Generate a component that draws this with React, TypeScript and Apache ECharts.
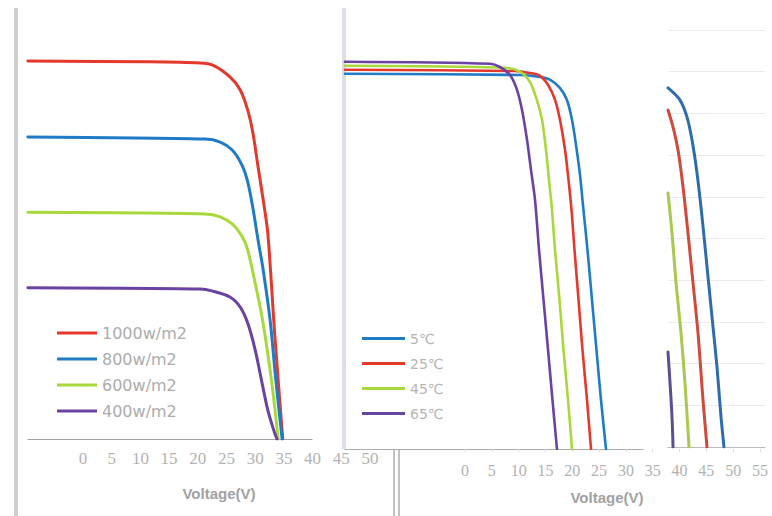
import React, { useEffect, useRef } from 'react';
import * as echarts from 'echarts';

type Pt = [number, number];

// ---------- tick labels ----------
const leftTicks = [0, 5, 10, 15, 20, 25, 30, 35, 40, 45, 50];
const rightTicks = [0, 5, 10, 15, 20, 25, 30, 35, 40, 45, 50, 55];

// ---------- legend names ----------
const irradianceNames = ['1000w/m2', '800w/m2', '600w/m2', '400w/m2'];
const temperatureNames = ['5℃', '25℃', '45℃', '65℃'];

// ---------- panel 1: irradiance I-V curves [V, A] ----------
const irr1000: Pt[] = [[-9.6, 9.0], [11.7, 8.98], [20.4, 8.95], [22.6, 8.9], [25.6, 8.62], [27.4, 8.31], [28.7, 7.83], [29.6, 7.29], [30.5, 6.48], [31.4, 5.69], [32.2, 4.9], [33.4, 2.5], [34.8, 0]];
const irr800: Pt[] = [[-9.6, 7.19], [21.3, 7.14], [23.9, 7.07], [26.0, 6.88], [27.7, 6.52], [28.7, 6.12], [29.6, 5.5], [30.5, 4.74], [31.4, 4.02], [32.6, 2.83], [33.6, 1.4], [34.7, 0]];
const irr600: Pt[] = [[-9.6, 5.4], [21.3, 5.36], [23.9, 5.29], [26.0, 5.12], [27.7, 4.83], [28.7, 4.5], [30.0, 3.71], [31.2, 2.9], [32.1, 2.12], [32.9, 1.33], [33.6, 0.52], [34.0, 0]];
const irr400: Pt[] = [[-9.6, 3.6], [20.4, 3.57], [22.6, 3.52], [25.6, 3.38], [27.4, 3.14], [28.7, 2.76], [30.0, 2.12], [31.2, 1.33], [32.2, 0.69], [33.4, 0.14], [33.8, 0]];

// ---------- panel 2: temperature I-V curves [V, A] ----------
const temp5: Pt[] = [[-22.4, 9.38], [10.3, 9.35], [14.0, 9.3], [15.9, 9.23], [17.7, 9.03], [19.0, 8.73], [19.96, 8.23], [20.71, 7.6], [21.46, 6.85], [22.01, 6.1], [22.85, 4.98], [23.69, 3.73], [24.53, 2.48], [25.37, 1.23], [26.31, 0]];
const temp25: Pt[] = [[-22.4, 9.48], [9.3, 9.45], [12.1, 9.4], [14.0, 9.33], [15.5, 9.1], [16.8, 8.73], [17.72, 8.23], [18.66, 7.48], [19.31, 6.73], [19.87, 5.98], [20.43, 4.98], [21.18, 3.73], [21.92, 2.48], [22.76, 1.23], [23.51, 0]];
const temp45: Pt[] = [[-22.4, 9.58], [7.5, 9.53], [10.3, 9.43], [12.1, 9.18], [13.4, 8.73], [14.37, 8.23], [15.11, 7.48], [15.67, 6.73], [16.23, 5.98], [16.79, 4.98], [17.63, 3.73], [18.38, 2.48], [19.22, 1.23], [19.96, 0]];
const temp65: Pt[] = [[-22.4, 9.68], [4.7, 9.63], [6.5, 9.55], [8.4, 9.35], [9.7, 8.98], [10.63, 8.48], [11.57, 7.73], [12.31, 6.98], [13.06, 6.23], [13.81, 4.98], [14.65, 3.73], [15.49, 2.48], [16.32, 1.23], [17.16, 0]];

// ---------- panel 3: cropped temperature curves [V, A] ----------
const crop5: Pt[] = [[37.87, 8.61], [40.11, 8.32], [41.42, 7.91], [42.35, 7.36], [43.28, 6.57], [44.22, 5.52], [45.15, 4.32], [46.08, 3.12], [47.01, 1.92], [47.76, 0.72], [48.32, 0]];
const crop25: Pt[] = [[37.87, 8.08], [38.81, 7.67], [39.74, 7.12], [40.67, 6.24], [41.6, 5.13], [42.54, 3.93], [43.47, 2.73], [44.4, 1.13], [45.15, 0]];
const crop45: Pt[] = [[37.87, 6.09], [38.62, 5.13], [39.37, 3.93], [40.3, 2.73], [41.04, 1.53], [41.79, 0]];
const crop65: Pt[] = [[37.87, 2.28], [38.25, 1.53], [38.62, 0.72], [38.81, 0]];

const irrColors = ['#e5382d', '#1f7bc6', '#a9d83c', '#6a42a2'];
const tempColors = ['#1f7bc6', '#e5382d', '#a9d83c', '#6a42a2'];
const cropColors = ['#2f6cab', '#cf4a3d', '#a8c84e', '#5d4e92'];

const serifFont = '"Liberation Serif", "Times New Roman", "DejaVu Serif", serif';

const tickLabelStyle = {
  fontFamily: serifFont,
  fontSize: 17,
  color: '#b2b2b2',
};

function lineSeries(name: string, data: Pt[], color: string, axis: number, width: number) {
  return {
    type: 'line',
    name,
    data,
    xAxisIndex: axis,
    yAxisIndex: axis,
    smooth: 0.3,
    symbol: 'none',
    showSymbol: false,
    clip: true,
    lineStyle: { color, width, cap: 'round', join: 'round' },
    itemStyle: { color },
  };
}

export default function App() {
  const ref = useRef<HTMLDivElement>(null);

  useEffect(() => {
    if (!ref.current) return;
    const chart = echarts.init(ref.current, null, { renderer: 'svg' });

    const irrData = [irr1000, irr800, irr600, irr400];
    const tempData = [temp5, temp25, temp45, temp65];
    const cropData = [crop5, crop25, crop45, crop65];

    const series: any[] = [];
    irradianceNames.forEach((n, i) => series.push(lineSeries(n, irrData[i], irrColors[i], 0, 3)));
    temperatureNames.forEach((n, i) => series.push(lineSeries(n, tempData[i], tempColors[i], 2, 2.6)));
    temperatureNames.forEach((n, i) => series.push(lineSeries(n, cropData[i], cropColors[i], 4, 3)));

    const hiddenY = { type: 'value', show: false, min: 0, max: 10 };

    chart.setOption({
      animation: false,
      backgroundColor: '#ffffff',
      grid: [
        { left: 28, top: 19, width: 284, height: 420, outerBoundsMode: 'none' },
        { left: 83, top: 19, width: 287, height: 420, outerBoundsMode: 'none' },
        { left: 345, top: 49, width: 298, height: 400, outerBoundsMode: 'none' },
        { left: 465, top: 49, width: 295, height: 400, outerBoundsMode: 'none' },
        { left: 668, top: 30, width: 97, height: 417, outerBoundsMode: 'none' },
      ],
      xAxis: [
        {
          type: 'value', gridIndex: 0, min: -9.58, max: 39.9,
          axisLine: { show: true, lineStyle: { color: '#a3a3a3', width: 1.2 } },
          axisTick: { show: false }, axisLabel: { show: false }, splitLine: { show: false },
        },
        {
          type: 'value', gridIndex: 1,
          min: leftTicks[0], max: leftTicks[leftTicks.length - 1], interval: 5,
          axisLine: { show: false }, axisTick: { show: false }, splitLine: { show: false },
          axisLabel: { ...tickLabelStyle, margin: 11 },
        },
        {
          type: 'value', gridIndex: 2, min: -22.39, max: 33.21,
          axisLine: { show: true, lineStyle: { color: '#acacac', width: 1.2 } },
          axisTick: { show: false }, axisLabel: { show: false }, splitLine: { show: false },
        },
        {
          type: 'value', gridIndex: 3,
          min: rightTicks[0], max: rightTicks[rightTicks.length - 1], interval: 5,
          axisLine: { show: false }, splitLine: { show: false },
          axisTick: { show: true, length: 3, lineStyle: { color: '#dcdcdc' } },
          axisLabel: { ...tickLabelStyle, fontSize: 16, margin: 13 },
        },
        {
          type: 'value', gridIndex: 4, min: 37.87, max: 55.97,
          axisLine: { show: true, lineStyle: { color: '#bdbdbd', width: 1.2 } },
          axisTick: { show: false }, axisLabel: { show: false }, splitLine: { show: false },
        },
      ],
      yAxis: [
        { ...hiddenY, gridIndex: 0 },
        { ...hiddenY, gridIndex: 1 },
        { ...hiddenY, gridIndex: 2 },
        { ...hiddenY, gridIndex: 3 },
        {
          type: 'value', gridIndex: 4, min: 0, max: 10, interval: 1,
          axisLine: { show: false }, axisTick: { show: false }, axisLabel: { show: false },
          splitLine: { show: true, lineStyle: { color: '#ebebeb', width: 1 } },
        },
      ],
      legend: [
        {
          data: irradianceNames,
          orient: 'vertical',
          left: 57,
          top: 325,
          padding: 0,
          icon: 'rect',
          itemWidth: 40,
          itemHeight: 3,
          itemGap: 10,
          selectedMode: false,
          textStyle: { fontFamily: 'DejaVu Sans', fontSize: 16, lineHeight: 16, color: '#acacac' },
        },
        {
          data: temperatureNames,
          orient: 'vertical',
          left: 362,
          top: 331,
          padding: 0,
          icon: 'rect',
          itemWidth: 43,
          itemHeight: 3,
          itemGap: 10,
          selectedMode: false,
          textStyle: { fontFamily: 'DejaVu Sans', fontSize: 14, lineHeight: 15, color: '#b4b4b4' },
        },
      ],
      graphic: [
        { type: 'rect', silent: true, shape: { x: 14, y: 8, width: 4, height: 508 }, style: { fill: '#cfcfcf' } },
        { type: 'rect', silent: true, shape: { x: 342, y: 8, width: 4, height: 441 }, style: { fill: '#dddde4' } },
        { type: 'line', silent: true, shape: { x1: 394, y1: 449, x2: 394, y2: 516 }, style: { stroke: '#c2c2c2', lineWidth: 2 } },
        { type: 'line', silent: true, shape: { x1: 399, y1: 449, x2: 399, y2: 516 }, style: { stroke: '#c2c2c2', lineWidth: 2 } },
        {
          type: 'text', silent: true, x: 219, y: 493,
          style: { text: 'Voltage(V)', align: 'center', verticalAlign: 'middle', fontFamily: 'Liberation Sans', fontSize: 15, fontWeight: 'bold', fill: '#a2a2a2' },
        },
        {
          type: 'text', silent: true, x: 607, y: 497,
          style: { text: 'Voltage(V)', align: 'center', verticalAlign: 'middle', fontFamily: 'Liberation Sans', fontSize: 15, fontWeight: 'bold', fill: '#a2a2a2' },
        },
      ],
      series,
    });

    return () => chart.dispose();
  }, []);

  return (
    <div
      ref={ref}
      style={{ position: 'fixed', left: 0, top: 0, width: 772, height: 516, background: '#fff' }}
    />
  );
}
